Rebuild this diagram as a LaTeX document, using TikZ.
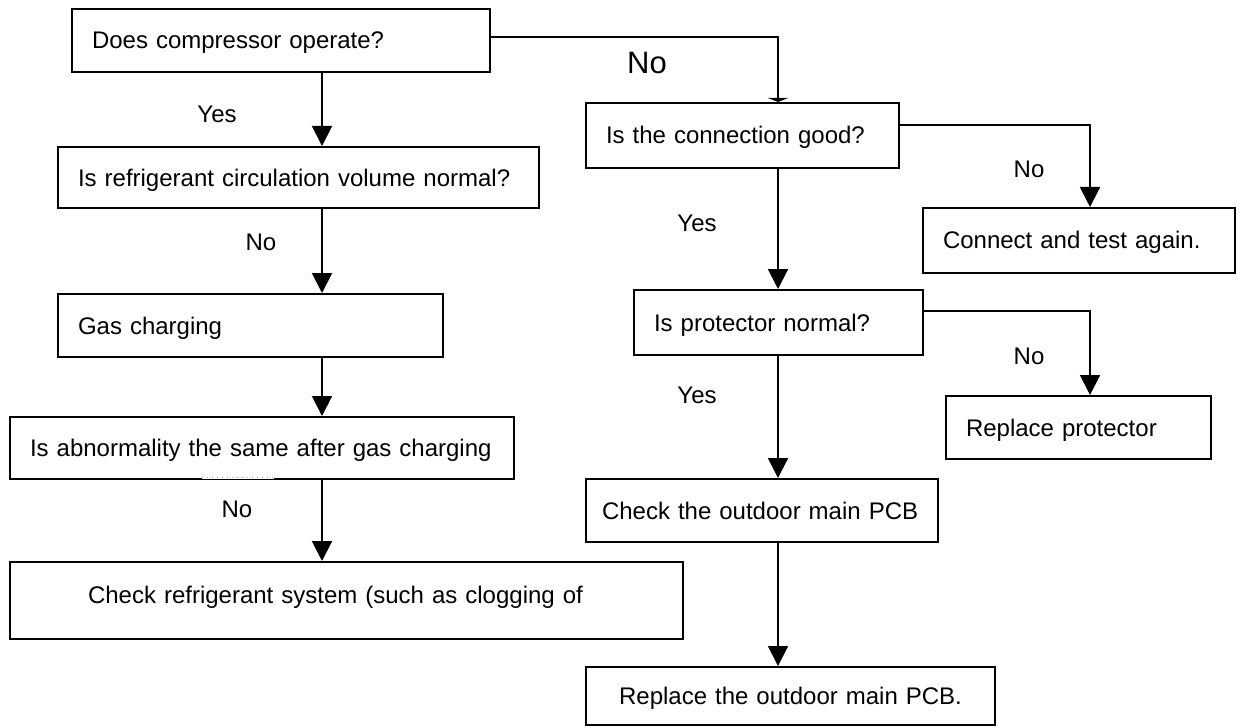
\documentclass[tikz,border=0pt]{standalone}
\usepackage{fontspec}
\setmainfont{Liberation Sans}
\usetikzlibrary{arrows.meta,calc}
\tikzset{
  flowbox/.style={draw, line width=1pt, anchor=north west, align=left, inner xsep=10pt, inner ysep=2pt,
    text height=12pt, text depth=3.5pt, font=\fontsize{12pt}{14pt}\selectfont},
  answer/.style={anchor=base, font=\fontsize{12pt}{14pt}\selectfont},
  flow/.style={line width=1pt, -{Triangle[length=10pt,width=10pt]}},
}
\begin{document}
\begin{tikzpicture}[x=0.5pt,y=-0.5pt]
\useasboundingbox (0,0) rectangle (1240,727);
% left column
\node[flowbox, text width=189pt, minimum height=31.5pt] (comp) at (71,8) {Does compressor operate?};
\node[flowbox, text width=220.5pt, minimum height=30.5pt] (refr) at (57,146) {Is refrigerant circulation volume normal?};
\node[flowbox, text width=172.5pt, minimum height=31.5pt] (gas) at (57,293) {Gas charging};
\node[flowbox, text width=232pt, minimum height=31pt] (abn) at (9,416) {Is abnormality the same after gas charging};
\node[flowbox, text width=258.5pt, inner xsep=39pt, minimum height=38.5pt, text depth=9.5pt] (sys) at (9,561) {Check refrigerant system (such as clogging of};
% right column
\node[flowbox, text width=136.5pt, minimum height=32.5pt] (conn) at (585,102) {Is the connection good?};
\node[flowbox, text width=136pt, minimum height=32.5pt] (retest) at (922,207) {Connect and test again.};
\node[flowbox, text width=124.5pt, minimum height=32.5pt] (prot) at (633,289) {Is protector normal?};
\node[flowbox, text width=112.5pt, minimum height=31.5pt] (newprot) at (945,395) {Replace protector};
\node[flowbox, text width=160pt, inner xsep=8pt, minimum height=31.5pt] (pcb) at (585,478) {\mbox{Check the outdoor main PCB}};
\node[flowbox, text width=184.5pt, align=center, minimum height=29pt] (newpcb) at (585,666) {Replace the outdoor main PCB.};
% gap in the frame
\draw[white, line width=1.5pt] (202,477) -- (274,477);
\draw[gray!60, dotted, line width=0.5pt] (202,477) -- (274,477);
% connectors
\coordinate (lcol) at (322,0);
\coordinate (rcol) at (778,0);
\coordinate (ncol) at (1090,0);
\draw[flow] (comp.south -| lcol) -- (refr.north -| lcol);
\draw[flow] (refr.south -| lcol) -- (gas.north -| lcol);
\draw[flow] (gas.south -| lcol) -- (abn.north -| lcol);
\draw[flow] (abn.south -| lcol) -- (sys.north -| lcol);
\draw[line width=1pt, -{Triangle[length=2pt,width=10pt]}] ([yshift=1.75pt]comp.east) -| (conn.north -| rcol);
\draw[flow] (conn.south -| rcol) -- (prot.north -| rcol);
\draw[flow] ([yshift=5pt]conn.east) -| (retest.north -| ncol);
\draw[flow] (prot.south -| rcol) -- (pcb.north -| rcol);
\draw[flow] ([yshift=6pt]prot.east) -| (newprot.north -| ncol);
\draw[flow] (pcb.south -| rcol) -- (newpcb.north -| rcol);
% answers
\node[answer] (yesa) at (217,123) {Yes};
\node[answer] (noa) at (261,250) {No};
\node[answer] (nob) at (237,517) {No};
\node[answer, font=\fontsize{15.5pt}{18pt}\selectfont] (noc) at (647,74) {No};
\node[answer] (yesb) at (697,231) {Yes};
\node[answer] (nod) at (1029,177) {No};
\node[answer] (yesc) at (697,403) {Yes};
\node[answer] (noe) at (1029,364) {No};
\end{tikzpicture}
\end{document}
